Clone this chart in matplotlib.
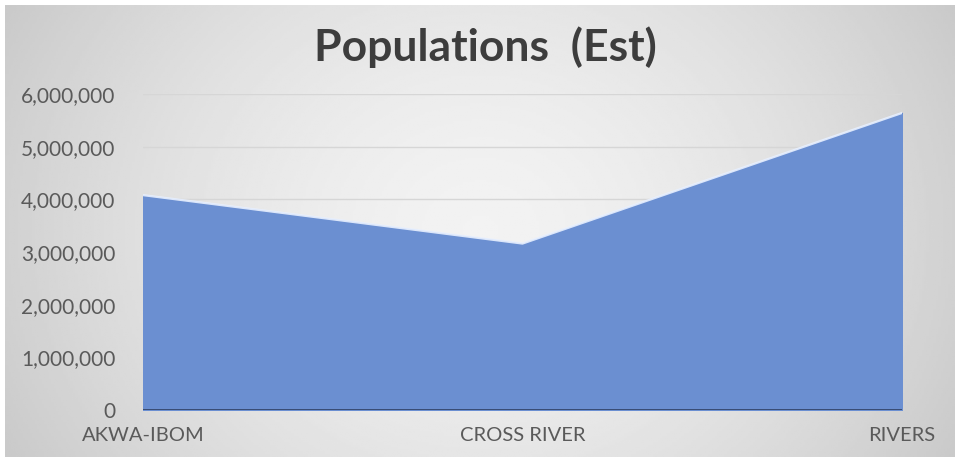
import numpy as np
import matplotlib.pyplot as plt
from matplotlib.ticker import FuncFormatter

states = ['AKWA-IBOM', 'CROSS RIVER', 'RIVERS']
population = [4080000, 3160000, 5640000]
y_ticks = [0, 1000000, 2000000, 3000000, 4000000, 5000000, 6000000]

plt.rcParams['font.family'] = ['Lato', 'DejaVu Sans']

fig = plt.figure(figsize=(9.55, 4.57), dpi=100)
fig.patch.set_facecolor('white')

# soft grey gradient panel behind the chart
bg = fig.add_axes([5 / 955, 0, 950 / 955, 452 / 457], zorder=0)
gx, gy = np.meshgrid(np.linspace(-1, 1, 400), np.linspace(-1, 1, 200))
r = np.sqrt(gx ** 2 + (0.55 * gy) ** 2)
shade = 0.95 - 0.13 * np.clip(r, 0, 1.2) ** 1.6
bg.imshow(shade, cmap='gray', vmin=0, vmax=1, aspect='auto', extent=[0, 1, 0, 1])
bg.axis('off')

ax = fig.add_axes([143 / 955, 47 / 457, 759 / 955, 316 / 457], zorder=1)
ax.patch.set_alpha(0)
x = np.arange(len(states))
ax.fill_between(x, population, color='#6b8fd1', zorder=2)
ax.plot(x, population, color='#e8f0ff', lw=1.6, alpha=0.9, zorder=3)
ax.axhline(0, color='#34456b', lw=2, zorder=4)

ax.set_xlim(0, len(states) - 1)
ax.set_ylim(0, 6000000)
ax.set_yticks(y_ticks)
ax.yaxis.set_major_formatter(FuncFormatter(lambda v, p: f'{int(v):,}'))
ax.set_xticks(x)
ax.set_xticklabels(states)
ax.grid(axis='y', color='#d6d6d6', lw=1, zorder=1)
ax.set_axisbelow(True)
for s in ax.spines.values():
    s.set_visible(False)
ax.tick_params(length=0, colors='#5a5a5a')
ax.tick_params(axis='y', pad=20, labelsize=15)
ax.tick_params(axis='x', pad=12, labelsize=14.5)

fig.text(0.508, 0.897, 'Populations  (Est)', ha='center', va='center',
         fontsize=32, fontweight='bold', color='#3d3d3d')

fig.savefig('out.png', dpi=100)
